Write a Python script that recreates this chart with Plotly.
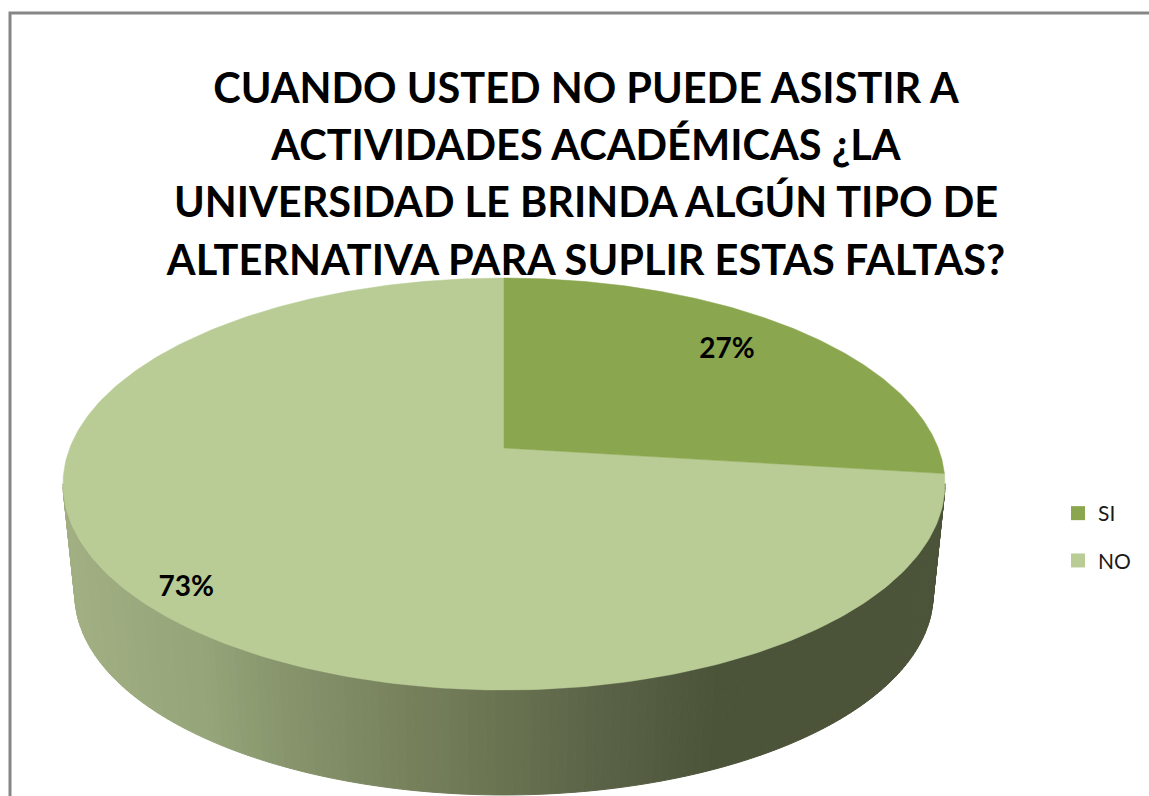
import numpy as np
import plotly.graph_objects as go

# --- data
categories = ["SI", "NO"]
values = [27, 73]
labels = ["27%", "73%"]
title_lines = [
    "CUANDO USTED NO PUEDE ASISTIR A",
    "ACTIVIDADES ACADÉMICAS ¿LA",
    "UNIVERSIDAD LE BRINDA ALGÚN TIPO DE",
    "ALTERNATIVA PARA SUPLIR ESTAS FALTAS?",
]

# --- style
slice_colors = ["#8AA64F", "#B9CC95"]
label_radius = [0.7725, 0.9053]
label_turn_deg = [-2.0, -2.6]
W, H = 1149, 796
PERSP = 0.1748            # perspective of the tilted disc
SCALE_X, SCALE_Y = 434.2, 199.7  # px per unit of the projected disc
APEX_PX = (504, 448)      # pixel position of the pie centre
WALL_DROP = 111.5 / SCALE_Y   # depth of the side wall, in y units
WALL_SHRINK = 0.973       # lower rim is a little smaller
wall_stops_x = [-1.02, -0.70, -0.47, -0.24, 0.0, 0.22, 0.50, 1.1]
wall_stops_rgb = [
    (162, 176, 131), (150, 165, 122), (133, 146, 106), (120, 131, 94),
    (106, 115, 81), (91, 99, 72), (75, 83, 57), (75, 83, 57),
]


def project(t, r=1.0):
    """Angle clockwise from 12 o'clock -> tilted-disc coordinates."""
    u, v = r * np.sin(t), r * np.cos(t)
    d = 1 + PERSP * v
    return u / d, v / d


total = sum(values)
fracs = [v / total for v in values]
edges = np.concatenate([[0], np.cumsum(fracs)]) * 2 * np.pi

fig = go.Figure()

# side wall, drawn as thin strips so that the shade follows x
wall_t = np.radians(np.arange(100, 260.5, 1.0))
for t0, t1 in zip(wall_t[:-1], wall_t[1:]):
    x0, y0 = project(t0)
    x1, y1 = project(t1)
    xm = (x0 + x1) / 2
    rgb = [np.interp(xm, wall_stops_x, [c[i] for c in wall_stops_rgb]) for i in range(3)]
    col = "rgb(%d,%d,%d)" % tuple(rgb)
    fig.add_trace(go.Scatter(
        x=[x0, x1, x1 * WALL_SHRINK, x0 * WALL_SHRINK, x0],
        y=[y0, y1, y1 * WALL_SHRINK - WALL_DROP, y0 * WALL_SHRINK - WALL_DROP, y0],
        mode="lines", fill="toself", fillcolor=col,
        line=dict(color=col, width=1),
        hoverinfo="skip", showlegend=False,
    ))

# top face: one wedge per value, NO first so SI sits on top
for i in [1, 0]:
    t = np.linspace(edges[i], edges[i + 1], 300)
    px, py = project(t)
    fig.add_trace(go.Scatter(
        x=np.concatenate([[0], px, [0]]), y=np.concatenate([[0], py, [0]]),
        mode="lines", fill="toself", fillcolor=slice_colors[i],
        line=dict(color=slice_colors[i], width=0.5),
        name=categories[i], showlegend=False, hoverinfo="skip",
    ))

# data labels
mids = (edges[:-1] + edges[1:]) / 2
lx, ly = [], []
for m, r, turn in zip(mids, label_radius, label_turn_deg):
    a, b = project(m + np.radians(turn), r)
    lx.append(float(a))
    ly.append(float(b))
fig.add_trace(go.Scatter(
    x=lx, y=ly, mode="text", text=labels,
    textfont=dict(family="Lato", size=28, color="black", weight="bold"),
    textposition="middle center", hoverinfo="skip", showlegend=False,
))

# legend entries
for name, col in zip(categories, slice_colors):
    fig.add_trace(go.Scatter(
        x=[None], y=[None], mode="markers", name=name, legendgroup=name,
        marker=dict(symbol="square", size=14, color=col),
    ))

fig.add_shape(type="rect", xref="paper", yref="paper",
              x0=10 / W, x1=1.02, y0=-0.02, y1=1 - 13 / H,
              line=dict(color="#868686", width=3), layer="below")

title_text = "<br>".join('<span style="font-size:41.5px">%s</span>' % s for s in title_lines)

fig.update_layout(
    width=W, height=H, margin=dict(l=0, r=0, t=0, b=0),
    paper_bgcolor="white", plot_bgcolor="white",
    title=dict(
        text=title_text,
        font=dict(family="Lato", size=44, color="black", weight="bold"),
        x=586 / W, xanchor="center", y=1 - 103 / H, yanchor="middle",
    ),
    xaxis=dict(range=[-APEX_PX[0] / SCALE_X, (W - APEX_PX[0]) / SCALE_X], visible=False, fixedrange=True),
    yaxis=dict(range=[-(H - APEX_PX[1]) / SCALE_Y, APEX_PX[1] / SCALE_Y], visible=False, fixedrange=True),
    showlegend=True,
    legend=dict(x=1064 / W, xanchor="left", y=1 - 537 / H, yanchor="middle",
                font=dict(family="Lato", size=21, color="#1a1a1a"),
                tracegroupgap=17, indentation=-6, bgcolor="rgba(0,0,0,0)"),
)

fig.write_html("out.html", config=dict(displayModeBar=False),
               post_script="document.body.style.margin='0';document.body.style.overflow='hidden';")
